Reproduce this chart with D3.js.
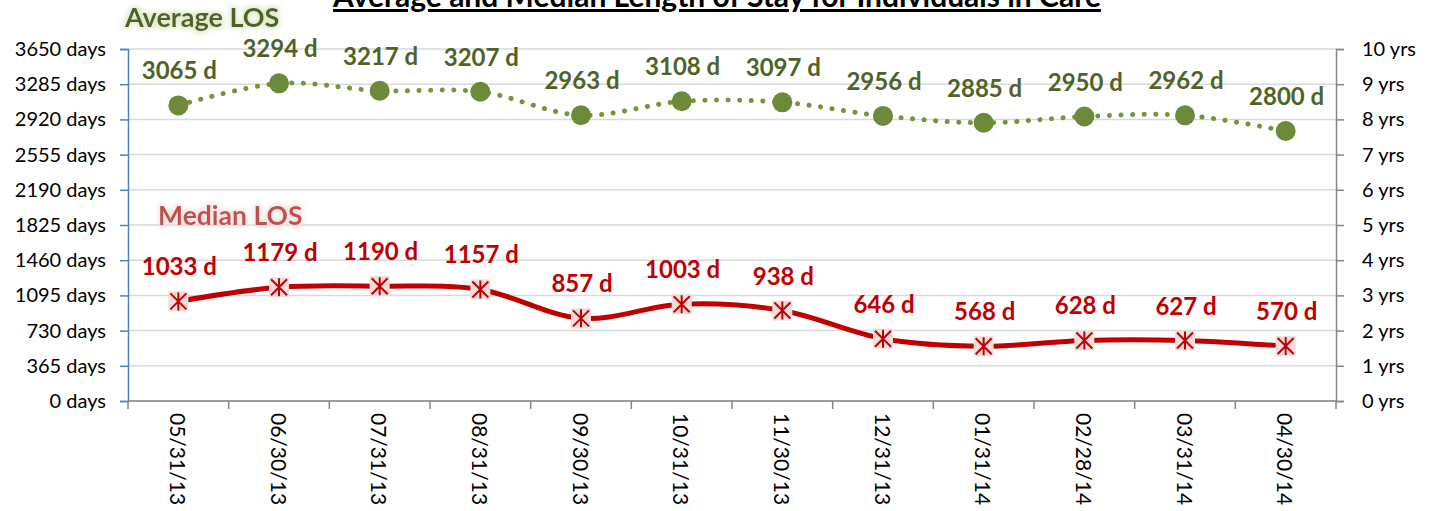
<!DOCTYPE html>
<html>
<head>
<meta charset="utf-8">
<script src="https://cdn.jsdelivr.net/npm/d3@7"></script>
<style>
    html, body { margin: 0; padding: 0; background: #fff; overflow: hidden; }
    svg { display: block; }
    svg text { font-family: Lato, "Open Sans", sans-serif; }
</style>
</head>
<body>
<div id="chart"></div>
<script>
const dates = ["05/31/13", "06/30/13", "07/31/13", "08/31/13", "09/30/13", "10/31/13",
    "11/30/13", "12/31/13", "01/31/14", "02/28/14", "03/31/14", "04/30/14"];
const averageLos = [3065, 3294, 3217, 3207, 2963, 3108, 3097, 2956, 2885, 2950, 2962, 2800];
const medianLos = [1033, 1179, 1190, 1157, 857, 1003, 938, 646, 568, 628, 627, 570];
const dayTicks = [0, 365, 730, 1095, 1460, 1825, 2190, 2555, 2920, 3285, 3650];
const yearTicks = [0, 1, 2, 3, 4, 5, 6, 7, 8, 9, 10];

const width = 1442;
const height = 511;
const margin = { top: 49, right: 106, bottom: 110, left: 128 };
const innerWidth = width - margin.left - margin.right;
const innerHeight = height - margin.top - margin.bottom;

const svg = d3.select("#chart")
    .append("svg")
    .attr("width", width)
    .attr("height", height);

// glow filters for the series labels
function addGlow(id, color) {
    const f = svg.append("defs").append("filter")
        .attr("id", id)
        .attr("x", "-20%").attr("y", "-40%")
        .attr("width", "140%").attr("height", "180%");
    f.append("feMorphology").attr("in", "SourceAlpha").attr("operator", "dilate").attr("radius", 2).attr("result", "d");
    f.append("feGaussianBlur").attr("in", "d").attr("stdDeviation", 2.5).attr("result", "b");
    f.append("feFlood").attr("flood-color", color).attr("flood-opacity", 0.75);
    f.append("feComposite").attr("in2", "b").attr("operator", "in").attr("result", "g");
    const m = f.append("feMerge");
    m.append("feMergeNode").attr("in", "g");
    m.append("feMergeNode").attr("in", "SourceGraphic");
}
addGlow("glowGreen", "#d7e4bd");
addGlow("glowRed", "#f2dcdb");

const g = svg.append("g")
    .attr("transform", `translate(${margin.left}, ${margin.top})`);

const x = d3.scaleBand()
    .domain(dates)
    .range([0, innerWidth]);

const y = d3.scaleLinear()
    .domain([0, 3650])
    .range([innerHeight, 0]);

const yYears = d3.scaleLinear()
    .domain([0, 10])
    .range([innerHeight, 0]);

// gridlines
g.selectAll(".grid")
    .data(dayTicks)
    .enter()
    .append("line")
    .attr("x1", 0)
    .attr("x2", innerWidth)
    .attr("y1", d => y(d))
    .attr("y2", d => y(d))
    .attr("stroke", "#d9d9d9")
    .attr("stroke-width", 1.5);

// left axis
const leftAxis = g.append("g")
    .call(d3.axisLeft(y).tickValues(dayTicks).tickSize(8).tickPadding(14).tickFormat(d => `${d} days`));
leftAxis.select(".domain").attr("stroke", "#4f81bd").attr("stroke-width", 1.5);
leftAxis.selectAll(".tick line").attr("stroke", "#4f81bd").attr("stroke-width", 1.5);
leftAxis.selectAll("text").attr("font-size", 20).attr("fill", "#000");

// right axis
const rightAxis = g.append("g")
    .attr("transform", `translate(${innerWidth}, 0)`)
    .call(d3.axisRight(yYears).tickValues(yearTicks).tickSize(8).tickPadding(18).tickFormat(d => `${d} yrs`));
rightAxis.select(".domain").attr("stroke", "#868686").attr("stroke-width", 1.5);
rightAxis.selectAll(".tick line").attr("stroke", "#868686").attr("stroke-width", 1.5);
rightAxis.selectAll("text").attr("font-size", 20).attr("fill", "#000");

// bottom axis with ticks at the category boundaries
const bottomAxis = g.append("g")
    .attr("transform", `translate(0, ${innerHeight})`);
bottomAxis.append("line")
    .attr("x1", 0).attr("x2", innerWidth)
    .attr("stroke", "#868686").attr("stroke-width", 1.5);
bottomAxis.selectAll(".btick")
    .data(dates.concat(["end"]))
    .enter()
    .append("line")
    .attr("x1", (d, i) => i * x.bandwidth())
    .attr("x2", (d, i) => i * x.bandwidth())
    .attr("y1", 0).attr("y2", 8)
    .attr("stroke", "#868686").attr("stroke-width", 1.5);
bottomAxis.selectAll(".dlabel")
    .data(dates)
    .enter()
    .append("text")
    .attr("transform", d => `translate(${x(d) + x.bandwidth() / 2 - 3}, 12) rotate(90)`)
    .attr("font-size", 21)
    .attr("dominant-baseline", "middle")
    .text(d => d);

const cx = d => x(d) + x.bandwidth() / 2;
const curve = d3.curveCardinal.tension(0);

// average series
const avgLine = d3.line()
    .x((d, i) => cx(dates[i]))
    .y(d => y(d))
    .curve(curve);

g.append("path")
    .datum(averageLos)
    .attr("d", avgLine)
    .attr("fill", "none")
    .attr("stroke", "#77933c")
    .attr("stroke-width", 5)
    .attr("stroke-linecap", "round")
    .attr("stroke-dasharray", "0.1 11.5");

g.selectAll(".avgdot")
    .data(averageLos)
    .enter()
    .append("circle")
    .attr("cx", (d, i) => cx(dates[i]))
    .attr("cy", d => y(d))
    .attr("r", 10)
    .attr("fill", "#6b8a3a");

g.selectAll(".avglabel")
    .data(averageLos)
    .enter()
    .append("text")
    .attr("x", (d, i) => cx(dates[i]) + 1)
    .attr("y", d => y(d) - 26)
    .attr("text-anchor", "middle")
    .attr("font-size", 24)
    .attr("font-weight", "bold")
    .attr("fill", "#4f6228")
    .text(d => `${d} d`);

// median series
const medLine = d3.line()
    .x((d, i) => cx(dates[i]))
    .y(d => y(d))
    .curve(curve);

g.append("path")
    .datum(medianLos)
    .attr("d", medLine)
    .attr("fill", "none")
    .attr("stroke", "#c00000")
    .attr("stroke-width", 5);

const stars = g.selectAll(".medstar")
    .data(medianLos)
    .enter()
    .append("g")
    .attr("transform", (d, i) => `translate(${cx(dates[i])}, ${y(d)})`);
stars.append("rect")
    .attr("x", -10).attr("y", -10)
    .attr("width", 20).attr("height", 20)
    .attr("fill", "#f2dcdb");
stars.append("path")
    .attr("d", "M0,-9V9M-8,-8L8,8M-8,8L8,-8")
    .attr("stroke", "#c00000")
    .attr("stroke-width", 2);

g.selectAll(".medlabel")
    .data(medianLos)
    .enter()
    .append("text")
    .attr("x", (d, i) => cx(dates[i]) + 1)
    .attr("y", d => y(d) - 26)
    .attr("text-anchor", "middle")
    .attr("font-size", 24)
    .attr("font-weight", "bold")
    .attr("fill", "#c00000")
    .text(d => `${d} d`);

// series names
svg.append("text")
    .attr("x", 125)
    .attr("y", 27)
    .attr("font-size", 27)
    .attr("font-weight", "bold")
    .attr("fill", "#4f6228")
    .attr("filter", "url(#glowGreen)")
    .text("Average LOS");

svg.append("text")
    .attr("x", 158)
    .attr("y", 225)
    .attr("font-size", 26.5)
    .attr("font-weight", "bold")
    .attr("fill", "#c0504d")
    .attr("filter", "url(#glowRed)")
    .text("Median LOS");

// title, cut off at the top
svg.append("text")
    .attr("x", 717)
    .attr("y", 7)
    .attr("text-anchor", "middle")
    .attr("font-size", 30)
    .attr("font-weight", "bold")
    .attr("text-decoration", "underline")
    .text("Average and Median Length of Stay for Individuals in Care");
</script>
</body>
</html>
